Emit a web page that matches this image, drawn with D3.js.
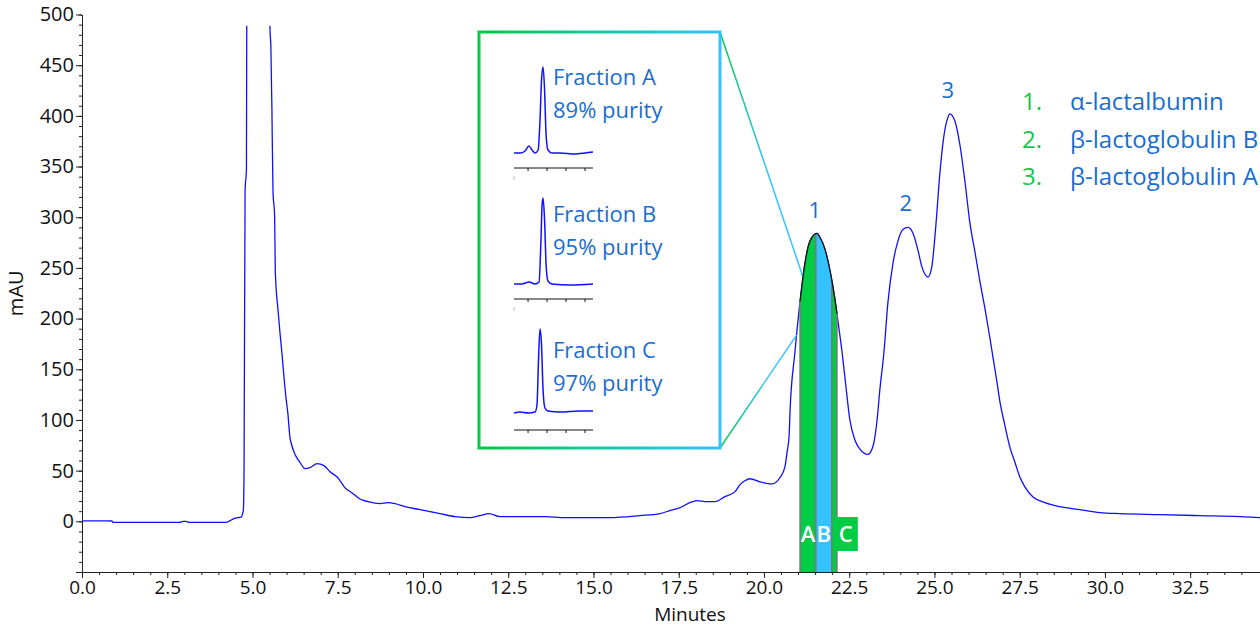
<!DOCTYPE html>
<html><head><meta charset="utf-8">
<script src="https://cdn.jsdelivr.net/npm/d3@7"></script>
<style>
body{margin:0;background:#fff}
svg{display:block}
text{font-family:"Open Sans","Noto Sans",sans-serif}
</style>
</head><body>
<svg id="chart" width="1260" height="627"></svg>
<script>
// ---------------- DATA ----------------
const chromTime = [0.000,0.877,0.907,2.870,2.960,3.049,3.139,4.225,4.345,4.454,4.574,4.664,4.703,4.733,4.753,4.783,4.823,4.843,5.082,5.481,5.511,
  5.540,5.570,5.600,5.650,5.670,5.750,5.809,5.869,5.909,5.979,6.039,6.098,6.128,6.248,6.397,6.537,6.686,6.896,7.095,7.274,7.503,7.713,7.922,8.151,8.390,8.739,8.978,9.178,9.477,9.915,
  10.503,10.941,11.380,11.669,11.938,12.257,13.582,14.160,15.485,16.362,16.950,17.239,17.538,17.827,18.036,18.325,18.564,18.853,19.152,19.292,19.441,19.591,19.880,20.239,20.468,20.617,20.677,20.737,20.767,20.906,
  21.056,21.205,21.345,21.554,21.644,21.793,21.933,22.082,22.172,22.291,22.401,22.520,22.670,22.819,23.049,23.198,23.318,23.397,23.517,23.636,23.786,23.925,24.075,24.224,24.374,24.513,24.633,24.812,
  24.922,25.042,25.161,25.281,25.390,25.450,25.600,25.749,25.899,26.038,26.187,26.337,26.476,26.626,26.835,26.925,27.064,27.214,27.363,27.503,27.652,27.891,28.240,28.679,29.267,29.855,30.442,31.608,32.784,33.960,34.548];
const chromAbs = [0.5,0.3,-1,-1,0,0,-1,-1,0.7,2.7,3.6,4.1,6.6,11.5,54,327,347,700,1500,700,489,
  467,406,327,300,246,208,185,164,148,123,106,83,78,66,58,52,53,57,55,49,43,33,28,22,19.4,17.5,18.4,17.5,14.5,11.5,
  7.6,4.6,3.6,5.6,7.6,4.6,4.6,3.6,3.6,5.6,7.6,10.6,13.5,18.4,20.4,19.4,19.4,24.3,29.3,36,40,42,39,37,43,54,68,84,110,166,
  216,255,276,284,280,268,248,219,197,167,134,100,80,71,66,74,100,129,166,216,255,276,288,290,284,268,251,241,
  251,292,344,381,398,402,395,371,334,295,266,236,211,181,137,117,95,73,58,44,34,24,18.4,14.5,11.5,8.6,7.6,6.6,5.6,4.6,3.6];

const xTickValues = [0,2.5,5,7.5,10,12.5,15,17.5,20,22.5,25,27.5,30,32.5];
const yTickValues = [-50,0,50,100,150,200,250,300,350,400,450,500];

const peakNumbers = ["1","2","3"];
const peakTimes = [21.55,24.22,25.45];
const peakLegendNumbers = ["1.","2.","3."];
const peakNames = ["α-lactalbumin","β-lactoglobulin B","β-lactoglobulin A"];

const fractionNames = ["A","B","C"];
const fractionStart = [21.06,21.52,21.99];
const fractionEnd = [21.52,21.99,22.14];
const fractionPurity = [89,95,97];

// inset mini chromatograms (relative time, relative signal)
const miniATime = [-0.74,-0.42,-0.16,0.05,0.21,0.37,0.53,0.63,0.71,0.79,0.87,0.95,1.05,1.26,1.68,2.47,3.0,3.42];
const miniAValue = [15,15,17,22,18,15,18,48,88,101,78,33,18,15,15,14,15,16];
const miniBTime = [-0.74,-0.32,0.05,0.37,0.58,0.68,0.74,0.79,0.87,0.95,1.05,1.26,2.21,3.42];
const miniBValue = [15,15,17,15,17,59,94,101,79,34,18,15,14,15];
const miniCTime = [-0.74,-0.42,0,0.37,0.47,0.55,0.63,0.71,0.79,0.89,1.05,1.68,2.74,3.42];
const miniCValue = [17,18,17,18,25,70,101,85,40,22,19,18,19,19];
const miniTickValues = [0,1,2,3];

// ---------------- DRAWING ----------------
(function(){
const svg = d3.select("#chart");
const pL = 82, pR = 1260, pT = 14.5, pB = 572;
const clipTopValue = 489;

const x = d3.scaleLinear().domain([0,34.548]).range([pL,pR]);
const y = d3.scaleLinear().domain([-50,500]).range([pB,pT]);

const blueText = "#1a6dd0", greenText = "#17c54a";
const green = "#00cc44", cyan = "#33c3ff";
const lineBlue = "#1010ff";

const chrom = chromTime.map((t,i)=>({t, v: chromAbs[i]}));
function valueAt(t){
  const i = d3.bisector(d=>d.t).right(chrom, t);
  if (i<=0) return chrom[0].v;
  if (i>=chrom.length) return chrom[chrom.length-1].v;
  const a = chrom[i-1], b = chrom[i];
  return a.v + (b.v-a.v)*(t-a.t)/(b.t-a.t);
}

const defs = svg.append("defs");
defs.append("clipPath").attr("id","plotclip")
  .append("rect").attr("x",pL).attr("y",y(clipTopValue)).attr("width",pR-pL).attr("height",pB-y(clipTopValue));
const g1 = defs.append("linearGradient").attr("id","boxgrad").attr("x1","0%").attr("x2","100%").attr("y1","0%").attr("y2","0%");
g1.append("stop").attr("offset","0%").attr("stop-color",green);
g1.append("stop").attr("offset","100%").attr("stop-color",cyan);

// axes
const yMinor = d3.range(-50,501,10);
const xMinor = d3.range(0,34.5,0.5);
svg.append("g").attr("transform",`translate(${pL},0)`)
  .call(d3.axisLeft(y).tickValues(yMinor).tickSize(3).tickSizeOuter(0).tickFormat(""))
  .call(g=>g.select(".domain").remove());
svg.append("g").attr("transform",`translate(0,${pB})`)
  .call(d3.axisBottom(x).tickValues(xMinor).tickSize(3).tickSizeOuter(0).tickFormat(""))
  .call(g=>g.select(".domain").remove());
const yAxis = svg.append("g").attr("transform",`translate(${pL},0)`)
  .call(d3.axisLeft(y).tickValues(yTickValues).tickSize(6).tickSizeOuter(0).tickPadding(2)
    .tickFormat(d=> d<0 ? "" : d3.format("d")(d)));
yAxis.selectAll("text").attr("font-size",20).attr("fill","#111").style("font-family","'Open Sans',sans-serif");
const xAxis = svg.append("g").attr("transform",`translate(0,${pB})`)
  .call(d3.axisBottom(x).tickValues(xTickValues).tickSize(6).tickSizeOuter(0).tickPadding(3)
    .tickFormat(d3.format(".1f")));
xAxis.selectAll("text").attr("font-size",19).attr("fill","#111").style("font-family","'Open Sans',sans-serif");
svg.selectAll(".tick line").attr("stroke","#222");
svg.selectAll(".domain").attr("stroke","#222");

svg.append("text").attr("transform",`translate(23,${(pT+pB)/2}) rotate(-90)`)
  .attr("text-anchor","middle").attr("font-size",20).attr("fill","#111").text("mAU");
svg.append("text").attr("x",690).attr("y",621).attr("text-anchor","middle")
  .attr("font-size",19).attr("fill","#111").text("Minutes");

// main chromatogram line
const line = d3.line().x(d=>x(d.t)).y(d=>y(d.v)).curve(d3.curveMonotoneX);
svg.append("path").datum(chrom).attr("clip-path","url(#plotclip)")
  .attr("d",line).attr("fill","none").attr("stroke",lineBlue).attr("stroke-width",1.3);

// connector lines from inset box to peak 1
const box = {x0:479, y0:32, x1:720, y1:448};
const connTop = 21.15, connBottom = 20.96;
[[box.y0, connTop],[box.y1, connBottom]].forEach(([by,t],i)=>{
  const id = "conngrad"+i;
  const gx = defs.append("linearGradient").attr("id",id).attr("gradientUnits","userSpaceOnUse")
    .attr("x1",box.x1).attr("y1",by).attr("x2",x(t)).attr("y2",y(valueAt(t)));
  gx.append("stop").attr("offset","0%").attr("stop-color",green);
  gx.append("stop").attr("offset","60%").attr("stop-color",cyan);
  svg.append("line").attr("x1",box.x1).attr("y1",by).attr("x2",x(t)).attr("y2",y(valueAt(t)))
    .attr("stroke",`url(#${id})`).attr("stroke-width",1.5);
});

// fraction fills
const fracColors = [green, cyan, green];
fractionNames.forEach((n,i)=>{
  const s = fractionStart[i], e = fractionEnd[i];
  const pts = [{t:s, v:valueAt(s)}].concat(chrom.filter(d=>d.t>s && d.t<e)).concat([{t:e, v:valueAt(e)}]);
  const area = d3.area().x(d=>x(d.t)).y0(pB).y1(d=>y(d.v)).curve(d3.curveMonotoneX);
  svg.append("path").datum(pts).attr("d",area).attr("fill",fracColors[i]).attr("stroke","none");
});
const bounds = [fractionStart[0], fractionStart[1], fractionStart[2], fractionEnd[2]];
bounds.forEach(t=>{
  svg.append("line").attr("x1",x(t)).attr("x2",x(t)).attr("y1",pB).attr("y2",y(valueAt(t)))
    .attr("stroke","#7a7a7a").attr("stroke-width",1.6);
});
{
  const s = fractionStart[0], e = fractionEnd[2];
  const pts = [{t:s, v:valueAt(s)}].concat(chrom.filter(d=>d.t>s && d.t<e)).concat([{t:e, v:valueAt(e)}]);
  svg.append("path").datum(pts).attr("d",d3.line().x(d=>x(d.t)).y(d=>y(d.v)).curve(d3.curveMonotoneX))
    .attr("fill","none").attr("stroke","#111").attr("stroke-width",1.3);
}
const labTop = 517, labBot = 551;
svg.append("rect").attr("x",x(fractionStart[2])+1).attr("y",labTop).attr("width",25).attr("height",labBot-labTop).attr("fill",green);
fractionNames.forEach((n,i)=>{
  const cx = i<2 ? (x(fractionStart[i])+x(fractionEnd[i]))/2 : x(fractionStart[2])+14;
  svg.append("text").attr("x",cx).attr("y",542).attr("text-anchor","middle")
    .attr("font-size",22).attr("font-weight",600).attr("fill","#fff").text(n);
});

// peak labels
peakNumbers.forEach((p,i)=>{
  const v = valueAt(peakTimes[i]);
  svg.append("text").attr("x",x(peakTimes[i])-2).attr("y",y(v)-16).attr("text-anchor","middle")
    .attr("font-size",22).attr("fill",blueText).text(p);
});

// legend
peakNames.forEach((n,i)=>{
  const by = 110 + i*37.5;
  svg.append("text").attr("x",1022).attr("y",by).attr("font-size",24).attr("fill",greenText).text(peakLegendNumbers[i]);
  svg.append("text").attr("x",1070).attr("y",by).attr("font-size",24).attr("fill",blueText).text(n);
});

// inset box
svg.append("rect").attr("x",box.x0).attr("y",box.y0).attr("width",box.x1-box.x0).attr("height",box.y1-box.y0)
  .attr("fill","#fff").attr("stroke","url(#boxgrad)").attr("stroke-width",3);

const miniSets = [[miniATime,miniAValue],[miniBTime,miniBValue],[miniCTime,miniCValue]];
const mx = d3.scaleLinear().domain([-0.74,3.42]).range([514,593]);
miniSets.forEach(([ts,vs],i)=>{
  const axisY = 168 + i*131;
  const my = d3.scaleLinear().domain([0,100]).range([axisY, axisY-100]);
  const g = svg.append("g");
  g.append("line").attr("x1",mx.range()[0]).attr("x2",mx.range()[1]).attr("y1",axisY).attr("y2",axisY)
    .attr("stroke","#111").attr("stroke-width",1);
  miniTickValues.forEach(tv=>{
    g.append("line").attr("x1",mx(tv)).attr("x2",mx(tv)).attr("y1",axisY).attr("y2",axisY+3).attr("stroke","#111").attr("stroke-width",1);
  });
  if (i<2) {
    g.append("line").attr("x1",mx.range()[0]).attr("x2",mx.range()[0]).attr("y1",axisY+8).attr("y2",axisY+12)
      .attr("stroke","#bbb").attr("stroke-width",1);
  }
  const pts = ts.map((t,j)=>({t, v: vs[j]}));
  g.append("path").datum(pts).attr("d",d3.line().x(d=>mx(d.t)).y(d=>my(d.v)).curve(d3.curveMonotoneX))
    .attr("fill","none").attr("stroke",lineBlue).attr("stroke-width",1.5);
  const ty = 85 + i*136.5;
  g.append("text").attr("x",553).attr("y",ty).attr("font-size",22).attr("fill",blueText).text("Fraction " + fractionNames[i]);
  g.append("text").attr("x",553).attr("y",ty+33).attr("font-size",22).attr("fill",blueText).text(fractionPurity[i] + "% purity");
});
})();
</script>
</body></html>
